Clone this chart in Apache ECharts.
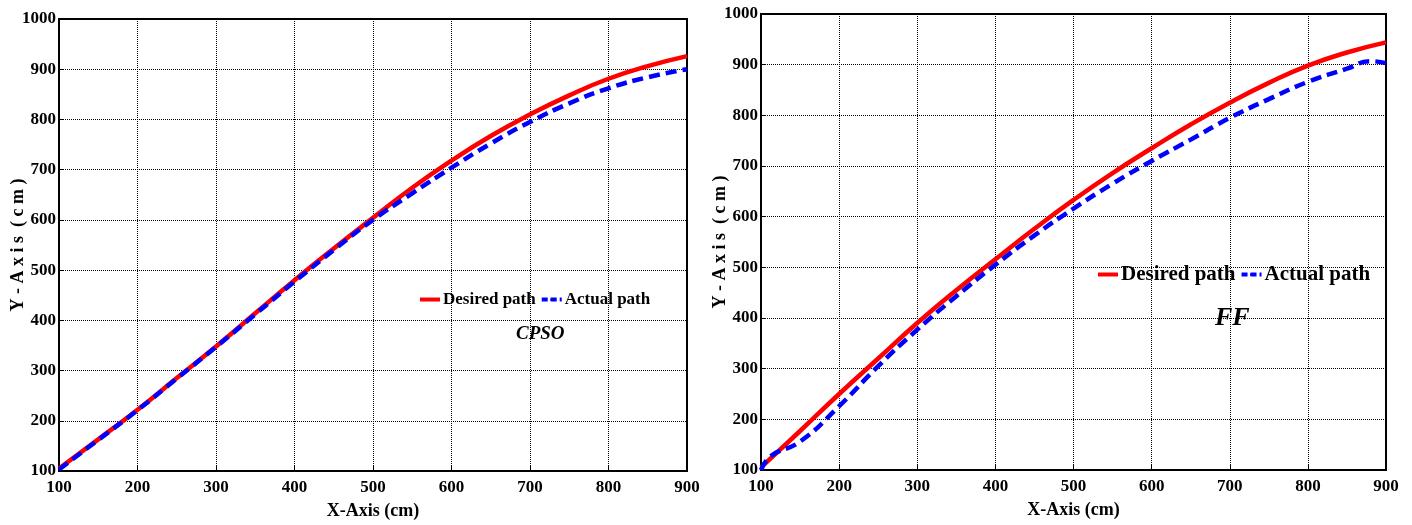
<!DOCTYPE html>
<html>
<head>
<meta charset="utf-8">
<script src="https://cdn.jsdelivr.net/npm/echarts@6/dist/echarts.min.js"></script>
<style>
  html, body { margin: 0; padding: 0; background: #fff; }
  #chart { width: 1412px; height: 525px; }
</style>
</head>
<body>
<div id="chart"></div>
<script>
// left panel (CPSO)
const cpsoX = [100, 150, 200, 250, 300, 350, 400, 450, 500, 550, 600, 650, 700, 750, 800, 850, 900];
const cpsoDesired = [105, 163, 222, 285, 348, 414, 480, 543, 604, 664, 718, 767, 810, 848, 881, 906, 926];
const cpsoActual = [103, 162, 221, 284, 347, 412, 477, 540, 600, 653, 704, 752, 795, 832, 862, 884, 900];

// right panel (FF)
const ffDesiredX = [100, 150, 200, 250, 300, 350, 400, 450, 500, 550, 600, 650, 700, 750, 800, 850, 900];
const ffDesired = [105, 177, 250, 320, 390, 455, 516, 576, 633, 686, 735, 782, 825, 864, 898, 924, 944];
const ffActualX = [100, 113, 150, 200, 250, 300, 350, 400, 450, 500, 550, 600, 650, 700, 750, 800, 850, 880, 900];
const ffActual = [100, 128, 156, 226, 305, 377, 443, 505, 563, 616, 665, 710, 752, 795, 832, 866, 892, 907, 903];

const pairs = (xs, ys) => xs.map((x, i) => [x, ys[i]]);

const font = 'Liberation Serif, Times New Roman, serif';
const labelStyle = { fontFamily: font, fontWeight: 'bold', fontSize: 17, color: '#000', formatter: v => String(v) };

function xAxisFor(gridIndex) {
  return {
    type: 'value', gridIndex, min: 100, max: 900, interval: 100,
    name: 'X-Axis (cm)', nameLocation: 'middle', nameGap: 31, nameMoveOverlap: false,
    nameTextStyle: { fontFamily: font, fontWeight: 'bold', fontSize: 18, color: '#000' },
    axisLine: { onZero: false, lineStyle: { color: '#000', width: 2 } },
    axisTick: { inside: true, length: 5, lineStyle: { color: '#000' } },
    axisLabel: Object.assign({ margin: 8 }, labelStyle),
    splitLine: { lineStyle: { color: '#000', type: [1, 1], width: 1 } }
  };
}

function yAxisFor(gridIndex) {
  return {
    type: 'value', gridIndex, min: 100, max: 1000, interval: 100,
    name: 'Y - A x i s  ( c m )', nameLocation: 'middle', nameGap: 32, nameMoveOverlap: false,
    nameTextStyle: { fontFamily: font, fontWeight: 'bold', fontSize: 18, color: '#000' },
    axisLine: { show: true, onZero: false, lineStyle: { color: '#000', width: 2 } },
    axisTick: { show: true, inside: true, length: 5, lineStyle: { color: '#000' } },
    axisLabel: Object.assign({ margin: 3 }, labelStyle),
    splitLine: { lineStyle: { color: '#000', type: [1, 1], width: 1 } }
  };
}

function lineSeries(name, idx, data, dashed) {
  return {
    name, type: 'line', xAxisIndex: idx, yAxisIndex: idx,
    data, smooth: true, symbol: 'none',
    z: dashed ? 3 : 2,
    lineStyle: dashed
      ? { color: '#0000ff', width: 4.5, type: [11, 6] }
      : { color: '#ff0000', width: 4.5 },
    itemStyle: { color: dashed ? '#0000ff' : '#ff0000' }
  };
}

function legendFor(left, top, size) {
  return {
    left, top, itemGap: 4, itemWidth: 20, itemHeight: 4,
    textStyle: { fontFamily: font, fontWeight: 'bold', fontSize: size, color: '#000', padding: [0, 0, 0, -2] },
    data: [
      { name: 'Desired path', icon: 'rect' },
      { name: 'Actual path', lineStyle: { type: [6, 3], width: 4 } }
    ]
  };
}

const chart = echarts.init(document.getElementById('chart'));

chart.setOption({
  animation: false,
  backgroundColor: '#fff',
  grid: [
    { left: 59, top: 19, width: 628, height: 452, show: true, borderColor: '#000', borderWidth: 2, backgroundColor: 'transparent', containLabel: false, outerBoundsMode: 'none' },
    { left: 761, top: 14, width: 625, height: 456, show: true, borderColor: '#000', borderWidth: 2, backgroundColor: 'transparent', containLabel: false, outerBoundsMode: 'none' }
  ],
  xAxis: [xAxisFor(0), xAxisFor(1)],
  yAxis: [yAxisFor(0), yAxisFor(1)],
  legend: [legendFor(415, 286, 17), legendFor(1093, 259, 21)],
  series: [
    lineSeries('Desired path', 0, pairs(cpsoX, cpsoDesired), false),
    lineSeries('Actual path', 0, pairs(cpsoX, cpsoActual), true),
    lineSeries('Desired path', 1, pairs(ffDesiredX, ffDesired), false),
    lineSeries('Actual path', 1, pairs(ffActualX, ffActual), true)
  ],
  graphic: [
    { type: 'text', left: 516, top: 325, style: { text: 'CPSO', fontFamily: font, fontStyle: 'italic', fontWeight: 'bold', fontSize: 19, fill: '#000' } },
    { type: 'text', left: 1215, top: 305, style: { text: 'FF', fontFamily: font, fontStyle: 'italic', fontWeight: 'bold', fontSize: 26, fill: '#000' } }
  ]
});
</script>
</body>
</html>
